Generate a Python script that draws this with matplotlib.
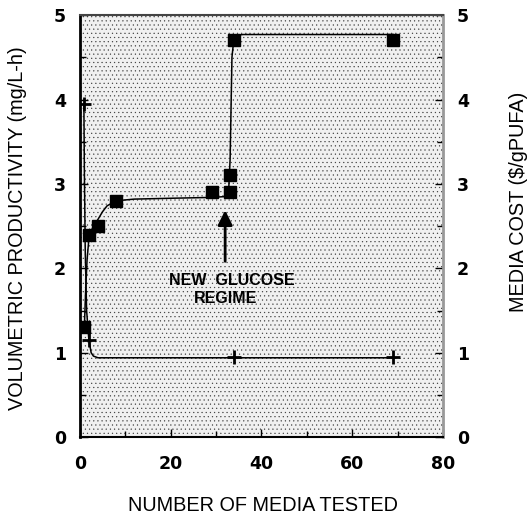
import matplotlib
matplotlib.use('Agg')
import matplotlib.pyplot as plt
from matplotlib.patches import Rectangle
from matplotlib.ticker import MultipleLocator

plt.rcParams['font.family'] = ['Liberation Sans', 'DejaVu Sans']
plt.rcParams['hatch.linewidth'] = 0.35

# measured points (squares = productivity, plus = media cost)
media_x = [1, 2, 4, 8, 29, 33, 33, 34, 69]
productivity = [1.3, 2.4, 2.5, 2.8, 2.9, 2.9, 3.1, 4.7, 4.7]

cost_x = [1, 2, 34, 69]
cost = [3.95, 1.15, 0.95, 0.95]

# hand-fitted curves
prod_fit_x = [1.0, 1.3, 1.6, 2.0, 2.5, 3.0, 4.0, 5.0, 6.0, 8.0, 12, 20, 29, 32.0, 32.8, 33.1, 33.5, 34.0, 36, 50, 69]
prod_fit_y = [1.3, 1.75, 2.1, 2.35, 2.44, 2.5, 2.58, 2.67, 2.74, 2.8, 2.82, 2.83, 2.84, 2.85, 2.95, 3.3, 4.5, 4.76, 4.77, 4.77, 4.77]

cost_fit_x = [0.9, 1.0, 1.2, 1.5, 2.0, 2.5, 3.0, 4.0, 10, 34, 69]
cost_fit_y = [3.95, 3.2, 2.2, 1.5, 1.15, 1.0, 0.96, 0.94, 0.94, 0.94, 0.94]

fig = plt.figure(figsize=(5.32, 5.21), dpi=100)
ax = fig.add_axes([0.150, 0.161, 0.683, 0.810])

ax.add_patch(Rectangle((0, 0), 1, 1, transform=ax.transAxes, facecolor='#f0f0f0',
                       edgecolor='#404040', hatch='....', linewidth=0, zorder=0))

ax.plot(prod_fit_x, prod_fit_y, color='black', lw=1.1, zorder=2)
ax.plot(cost_fit_x, cost_fit_y, color='black', lw=1.1, zorder=2)
ax.plot(media_x, productivity, 's', color='black', ms=8.5, zorder=3)
ax.plot(cost_x, cost, '+', color='black', ms=10, mew=2, zorder=3)

ax.annotate('', xy=(32, 2.72), xytext=(32, 2.05),
            arrowprops=dict(arrowstyle='-|>', color='black', lw=2, mutation_scale=22))
ax.text(33.5, 1.85, 'NEW  GLUCOSE', ha='center', va='center', fontsize=11.5, fontweight='bold')
ax.text(32.0, 1.64, 'REGIME', ha='center', va='center', fontsize=11.5, fontweight='bold')

ax.set_xlim(0, 80)
ax.set_ylim(0, 5)
ax.xaxis.set_major_locator(MultipleLocator(20))
ax.xaxis.set_minor_locator(MultipleLocator(10))
ax.yaxis.set_major_locator(MultipleLocator(1))
ax.yaxis.set_minor_locator(MultipleLocator(0.5))
ax.tick_params(which='both', direction='in', right=True, labelright=True,
               labelsize=12.5, width=1)
ax.tick_params(which='major', length=6)
ax.tick_params(which='minor', length=4)
ax.tick_params(axis='y', pad=10)
ax.tick_params(axis='x', pad=13)
for lab in ax.get_xticklabels() + ax.get_yticklabels():
    lab.set_fontweight('bold')
    lab.set_fontfamily('DejaVu Sans')

ax.spines['left'].set_linewidth(2)
ax.spines['bottom'].set_linewidth(1.5)
ax.spines['top'].set_linewidth(1.5)
ax.spines['top'].set_color('#444444')
ax.spines['right'].set_linewidth(2)
ax.spines['right'].set_color('#999999')

fig.text(0.032, 0.562, 'VOLUMETRIC PRODUCTIVITY (mg/L-h)', rotation=90,
         ha='center', va='center', fontsize=14.3)
fig.text(0.975, 0.612, 'MEDIA COST ($/gPUFA)', rotation=90,
         ha='center', va='center', fontsize=14.3)
fig.text(0.494, 0.029, 'NUMBER OF MEDIA TESTED', ha='center', va='center', fontsize=14.3)

fig.savefig('out.png', dpi=100)
